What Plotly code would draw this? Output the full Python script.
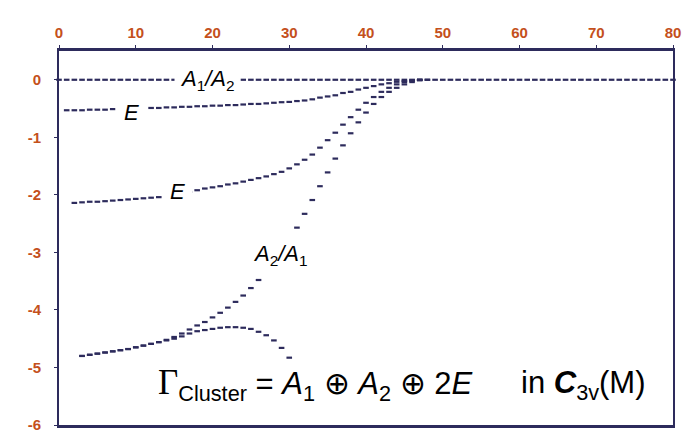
import plotly.graph_objects as go

# ---- data ----
x_a1a2 = list(range(0, 81))
y_a1a2 = [0.0] * 81

x_e_upper = list(range(1, 48))
y_e_upper = [-0.53, -0.53, -0.53, -0.52, -0.52, -0.52, -0.51, -0.51, -0.51, -0.50,
             -0.50, -0.49, -0.49, -0.48, -0.48, -0.47, -0.47, -0.46, -0.46, -0.45,
             -0.45, -0.44, -0.44, -0.43, -0.42, -0.42, -0.41, -0.40, -0.39, -0.385,
             -0.37, -0.36, -0.34, -0.31, -0.29, -0.27, -0.23, -0.21, -0.17, -0.14,
             -0.11, -0.08, -0.06, -0.035, -0.02, -0.01, 0.0]

x_e_lower = list(range(2, 48))
y_e_lower = [-2.14, -2.13, -2.12, -2.12, -2.11, -2.10, -2.09, -2.08, -2.07, -2.06,
             -2.05, -2.04, -2.02, -2.00, -1.98, -1.95, -1.92, -1.89, -1.87, -1.85,
             -1.82, -1.80, -1.77, -1.74, -1.71, -1.68, -1.64, -1.60, -1.54, -1.47,
             -1.39, -1.30, -1.18, -1.05, -0.92, -0.78, -0.65, -0.52, -0.40, -0.30,
             -0.21, -0.14, -0.08, -0.04, -0.015, 0.0]

x_a2a1 = list(range(3, 49))
y_a2a1 = [-4.80, -4.78, -4.76, -4.74, -4.72, -4.70, -4.68, -4.65, -4.62, -4.59,
          -4.56, -4.52, -4.47, -4.41, -4.34, -4.27, -4.21, -4.13, -4.05, -3.96,
          -3.86, -3.75, -3.62, -3.48, -3.33, -3.16, -2.98, -2.78, -2.57, -2.33,
          -2.09, -1.85, -1.61, -1.37, -1.14, -0.93, -0.74, -0.57, -0.42, -0.30,
          -0.21, -0.14, -0.08, -0.04, -0.01, 0.0]

x_peak = list(range(3, 31))
y_peak = [-4.80, -4.78, -4.76, -4.74, -4.72, -4.70, -4.68, -4.65, -4.62, -4.59,
          -4.56, -4.53, -4.50, -4.46, -4.41, -4.37, -4.35, -4.33, -4.31, -4.30,
          -4.30, -4.31, -4.33, -4.38, -4.44, -4.53, -4.66, -4.83]

x_tickvals = [0, 10, 20, 30, 40, 50, 60, 70, 80]
x_ticktext = ["0", "10", "20", "30", "40", "50", "60", "70", "80"]
y_tickvals = [0, -1, -2, -3, -4, -5, -6]
y_ticktext = ["0", "-1", "-2", "-3", "-4", "-5", "-6"]

# ---- style ----
NAVY = "#2d2b5c"
ORANGE = "#c4501c"
FONT = "Arial, Liberation Sans, sans-serif"

fig = go.Figure()
series = [(x_a1a2, y_a1a2), (x_e_upper, y_e_upper), (x_e_lower, y_e_lower),
          (x_a2a1, y_a2a1), (x_peak, y_peak)]
for xs, ys in series:
    fig.add_trace(go.Scatter(
        x=xs, y=ys, mode="markers", cliponaxis=False, showlegend=False,
        marker=dict(symbol="line-ew", size=4,
                    line=dict(color=NAVY, width=2.2)),
    ))

lab_font = dict(family=FONT, size=22, color="black")
labels = [
    (19.4, 0.0, "<i>A</i><sub>1</sub><i>/A</i><sub>2</sub>", 5),
    (9.5, -0.57, "<i>E</i>", 8),
    (15.4, -1.95, "<i>E</i>", 7),
    (28.9, -3.05, "<i>A</i><sub>2</sub><i>/A</i><sub>1</sub>", 4),
]
for x, y, t, pad in labels:
    fig.add_annotation(x=x, y=y, text=t, showarrow=False, font=lab_font,
                       bgcolor="white", borderpad=pad, xanchor="center", yanchor="middle")

big = dict(family=FONT, size=31, color="black")
fig.add_annotation(
    x=33.4, y=-5.3, showarrow=False, font=big, xanchor="center", yanchor="middle",
    text="<span style='font-family:Liberation Serif, Times New Roman, serif;font-size:35px'>Γ</span>"
         "<sub>Cluster</sub> = <i>A</i><sub>1</sub> ⊕ <i>A</i><sub>2</sub> ⊕ 2<i>E</i>",
)
fig.add_annotation(
    x=68.3, y=-5.3, showarrow=False, font=big, xanchor="center", yanchor="middle",
    text="in <b><i>C</i></b><sub>3v</sub>(M)",
)

tick_font = dict(family="Liberation Sans", size=15, color=ORANGE, weight=700)

fig.update_layout(
    width=691, height=437,
    margin=dict(l=51, r=26, t=43, b=20),
    paper_bgcolor="white", plot_bgcolor="white",
    xaxis=dict(
        side="top", range=[0, 80], tickmode="array", tickvals=x_tickvals, ticktext=x_ticktext,
        showgrid=False, zeroline=False, showline=True, mirror=True,
        linecolor=NAVY, linewidth=3, ticks="outside", ticklen=3, tickwidth=1,
        tickcolor=NAVY, ticklabelstandoff=1, tickfont=tick_font,
    ),
    yaxis=dict(
        range=[-6, 0.5], tickmode="array", tickvals=y_tickvals, ticktext=y_ticktext,
        showgrid=False, zeroline=False, showline=True, mirror=True,
        linecolor=NAVY, linewidth=2, ticks="outside", ticklen=3, tickwidth=1,
        tickcolor=NAVY, ticklabelstandoff=10, tickfont=tick_font,
    ),
)

fig.write_html("out.html")
